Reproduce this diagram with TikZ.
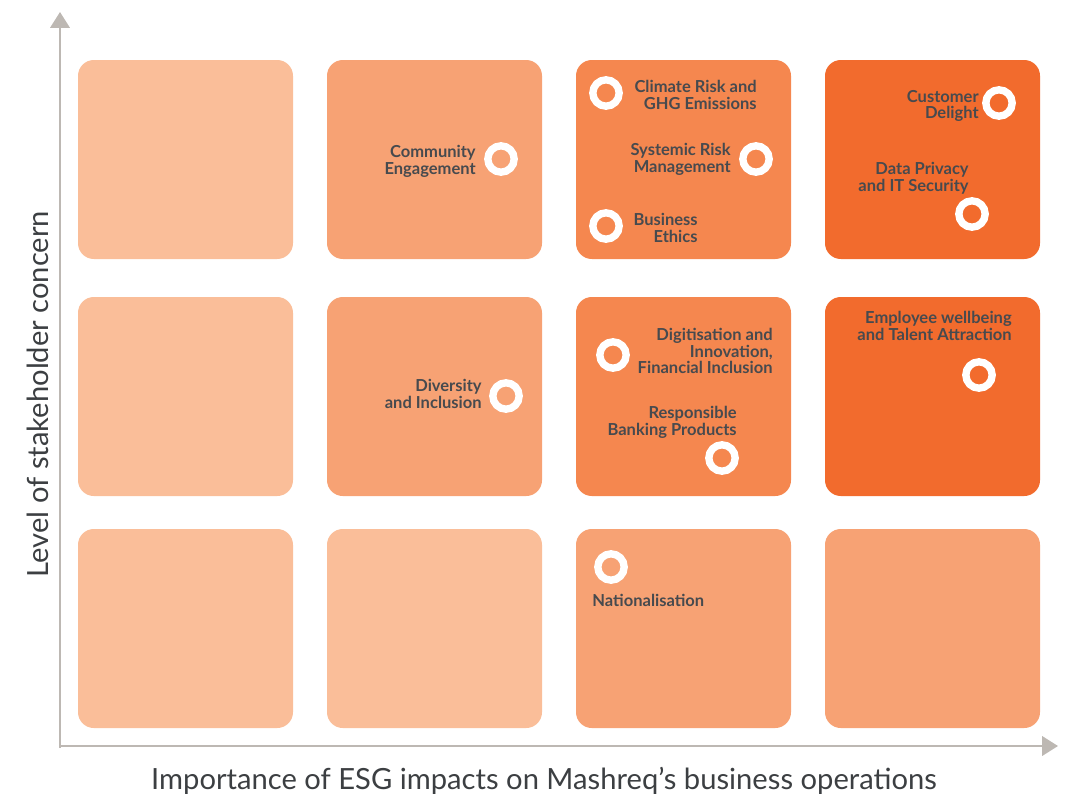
\documentclass[tikz,border=0pt]{standalone}
\usepackage{fontspec}
\setmainfont{Lato}
\usetikzlibrary{arrows.meta}

\definecolor{peach}{HTML}{FABE99}
\definecolor{salmon}{HTML}{F7A274}
\definecolor{coral}{HTML}{F5874F}
\definecolor{flame}{HTML}{F26B2D}
\definecolor{ink}{HTML}{474A4E}
\definecolor{axisgray}{HTML}{BDB8B3}

\tikzset{
  cell/.style={rounded corners=9pt},
  ring/.style={circle, draw=white, line width=4.2pt, minimum size=15pt, inner sep=0pt},
  issue/.style={text=ink, font=\fontsize{9.4}{9.6}\selectfont\bfseries, align=right, inner sep=0pt, anchor=east},
  axislabel/.style={text=ink!85!black, font=\fontsize{16.6}{18}\selectfont},
  axisline/.style={draw=axisgray, line width=1.4pt, -{Triangle[width=11pt,length=9pt]}}
}

\begin{document}
\begin{tikzpicture}[x=0.02cm, y=-0.02cm]
\useasboundingbox (0,0) rectangle (1078,798);

%% grid of cells: column, row, colour
\foreach \col/\row/\clr in {0/0/peach, 1/0/salmon, 2/0/coral, 3/0/flame,
                            0/1/peach, 1/1/salmon, 2/1/coral, 3/1/flame,
                            0/2/peach, 1/2/peach, 2/2/salmon, 3/2/salmon} {
  \pgfmathsetmacro{\top}{\row==0 ? 60 : (\row==1 ? 297 : 529)}
  \fill[cell, \clr] ({78+249*\col},\top) rectangle ++(215,199);
}

%% axes
\coordinate (origin) at (60,748);
\coordinate (ytip) at (60,12);
\coordinate (xtip) at (1058,746);
\draw[axisline] (origin) -- (ytip);
\draw[axisline] (60,746) -- (xtip);
\node[axislabel, rotate=90] (ylab) at (38,394) {Level of stakeholder concern};
\node[axislabel] (xlab) at (544,781) {Importance of ESG impacts on Mashreq’s business operations};

%% top row
\node[ring, fill=salmon] (community) at (501,159) {};
\node[issue] (communitytxt) at (476,161) {Community\\Engagement};

\node[ring, fill=coral] (climate) at (606,93) {};
\node[issue] (climatetxt) at (757,95) {Climate Risk and\\GHG Emissions};
\node[ring, fill=coral] (systemic) at (756,159) {};
\node[issue] (systemictxt) at (731,159) {Systemic Risk\\Management};
\node[ring, fill=coral] (ethics) at (606,226) {};
\node[issue] (ethicstxt) at (698,228) {Business\\Ethics};

\node[ring, fill=flame] (customer) at (999,103) {};
\node[issue] (customertxt) at (979,106) {Customer\\Delight};
\node[ring, fill=flame] (privacy) at (972,214) {};
\node[issue] (privacytxt) at (969,178) {Data Privacy\\and IT Security};

%% middle row
\node[ring, fill=salmon] (diversity) at (506,396) {};
\node[issue] (diversitytxt) at (482,394) {Diversity\\and Inclusion};

\node[ring, fill=coral] (digital) at (613,355) {};
\node[issue] (digitaltxt) at (773,351) {Digitisation and\\Innovation,\\Financial Inclusion};
\node[ring, fill=coral] (banking) at (722,458) {};
\node[issue] (bankingtxt) at (737,422) {Responsible\\Banking Products};

\node[ring, fill=flame] (employee) at (979,375) {};
\node[issue] (employeetxt) at (1012,326) {Employee wellbeing\\and Talent Attraction};

%% bottom row
\node[ring, fill=salmon] (national) at (611,567) {};
\node[issue, anchor=west] (nationaltxt) at (592,600) {Nationalisation};

\end{tikzpicture}
\end{document}
